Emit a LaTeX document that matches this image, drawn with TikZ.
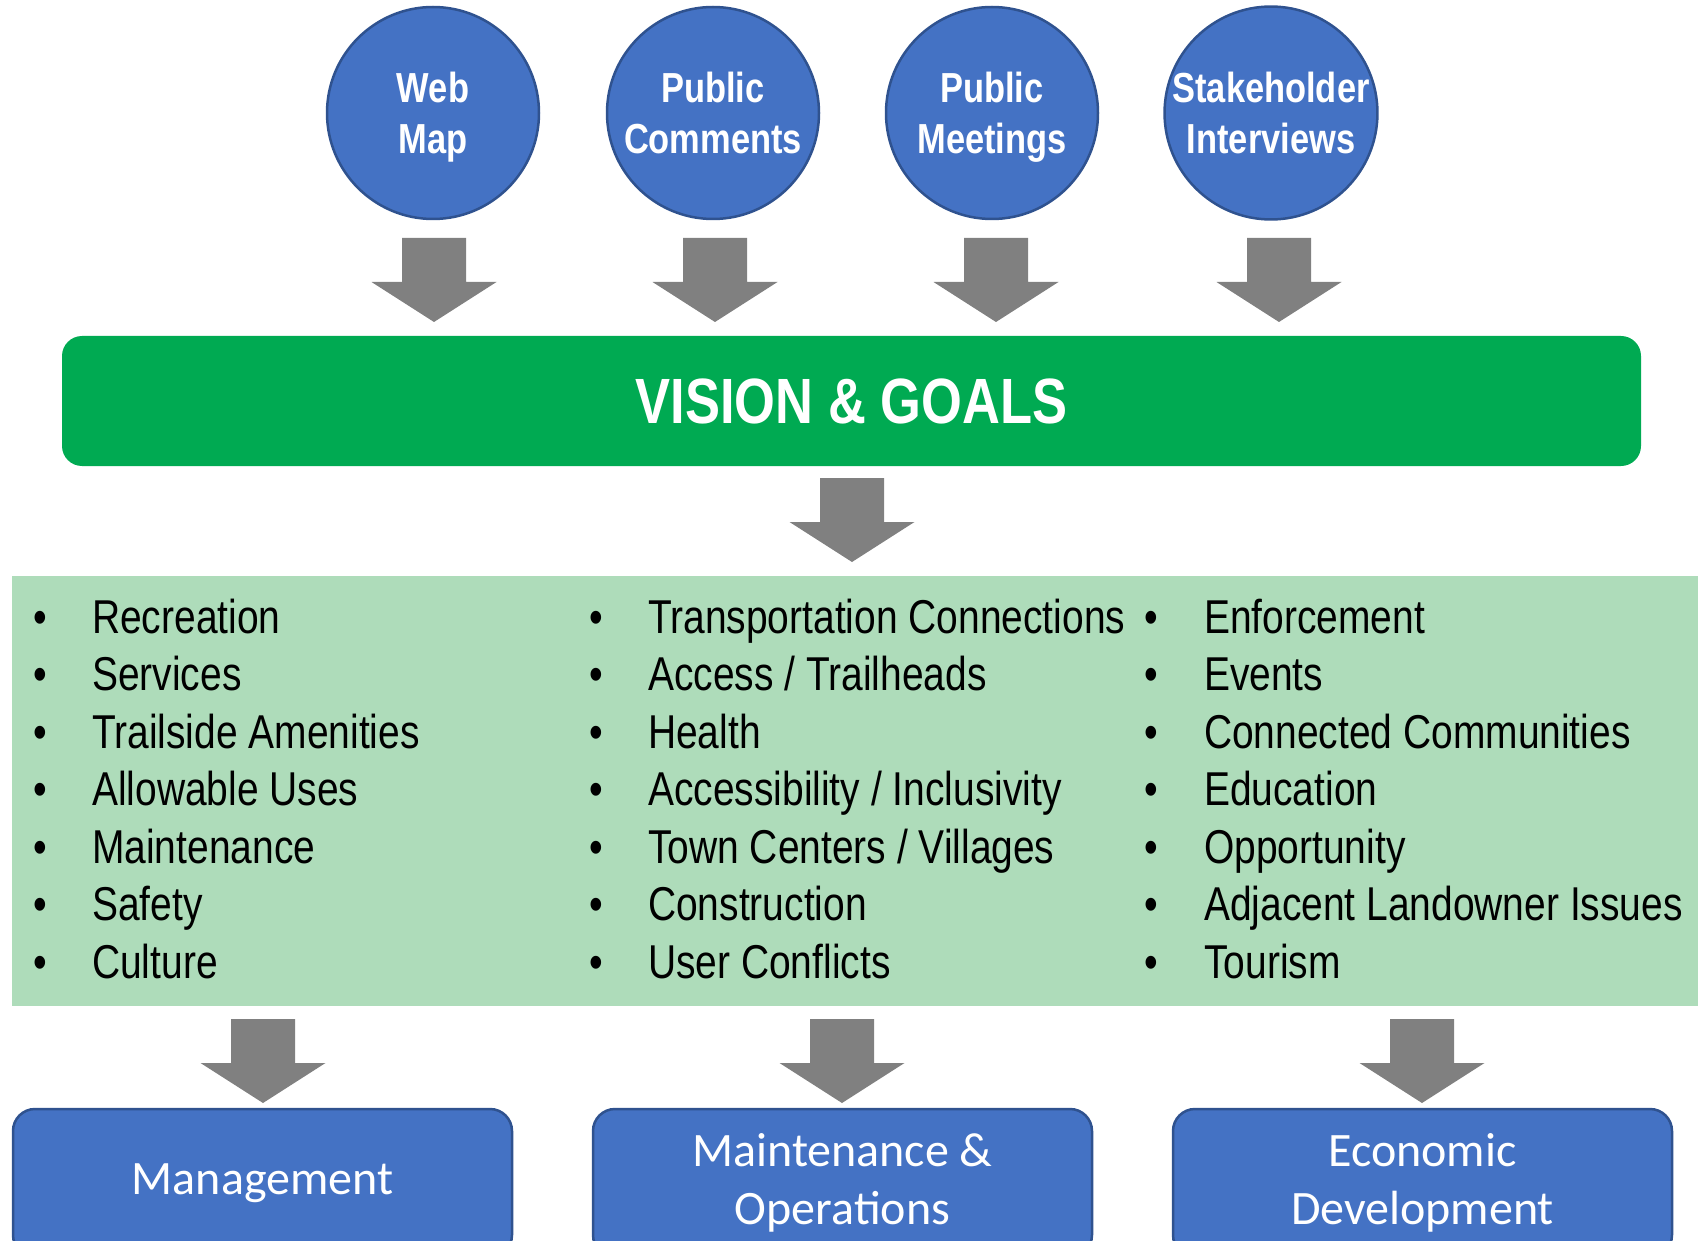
\documentclass[tikz,border=0pt]{standalone}
\usepackage{fontspec}
\setmainfont{Liberation Sans}
\newfontfamily\narrowfont[FakeStretch=0.82]{Liberation Sans}
\newfontfamily\calfont{Carlito}
\definecolor{cblue}{RGB}{68,114,196}
\definecolor{cbord}{RGB}{47,82,143}
\definecolor{cgreen}{RGB}{0,170,82}
\definecolor{lgreen}{RGB}{174,220,186}
\definecolor{agray}{RGB}{128,128,128}
\tikzset{
  src/.style={circle, fill=cblue, draw=cbord, line width=2.5pt, minimum size=212pt, inner sep=0pt,
    text=white, align=center, text depth=0pt, font=\narrowfont\bfseries\fontsize{42}{51}\selectfont},
  vgbox/.style={rectangle, rounded corners=20pt, fill=cgreen, minimum width=1579pt, minimum height=130pt,
    text=white, font=\narrowfont\bfseries\fontsize{64}{70}\selectfont},
  item/.style={anchor=base west, inner sep=0pt, font=\narrowfont\fontsize{47.5}{57}\selectfont},
  bul/.style={anchor=base, inner sep=0pt, font=\narrowfont\fontsize{47.5}{57}\selectfont},
  outbox/.style={rectangle, rounded corners=22pt, fill=cblue, draw=cbord, line width=2.5pt,
    minimum width=499pt, minimum height=148pt, text=white, align=center,
    font=\calfont\fontsize{48}{58}\selectfont},
  barrow/.pic={\fill[agray] (-32,0) -- (32,0) -- (32,44) -- (62.5,44) -- (0,84) -- (-62.5,44) -- (-32,44) -- cycle;}
}
\begin{document}
\begin{tikzpicture}[x=1pt,y=-1pt]
\useasboundingbox (0,0) rectangle (1698,1241);
\clip (0,0) rectangle (1698,1241);
% sources
\node[src] (c1) at (433,113) {Web\\Map};
\node[src] (c2) at (713,113) {Public\\Comments};
\node[src] (c3) at (992,113) {Public\\Meetings};
\node[src] (c4) at (1271,113) {Stakeholder\\Interviews};
% arrows to vision
\pic at (434,238) {barrow};
\pic at (715,238) {barrow};
\pic at (996,238) {barrow};
\pic at (1279,238) {barrow};
% vision
\node[vgbox] (vg) at (851.5,401) {VISION \& GOALS};
\pic at (852,478) {barrow};
% panel
\path[fill=lgreen] (12,576) rectangle (1698,1006);
% lists
\foreach \t [count=\i] in {Recreation,Services,Trailside Amenities,Allowable Uses,Maintenance,Safety,Culture}{
  \node[bul] (ba\i) at (40,{633+57.5*(\i-1)}) {•};
  \node[item] (la\i) at (92,{633+57.5*(\i-1)}) {\t};
}
\foreach \t [count=\i] in {Transportation Connections,Access / Trailheads,Health,Accessibility / Inclusivity,Town Centers / Villages,Construction,User Conflicts}{
  \node[bul] (bb\i) at (596,{633+57.5*(\i-1)}) {•};
  \node[item] (lb\i) at (648,{633+57.5*(\i-1)}) {\t};
}
\foreach \t [count=\i] in {Enforcement,Events,Connected Communities,Education,Opportunity,Adjacent Landowner Issues,Tourism}{
  \node[bul] (bc\i) at (1151,{633+57.5*(\i-1)}) {•};
  \node[item] (lc\i) at (1204,{633+57.5*(\i-1)}) {\t};
}
% arrows to outcomes
\pic at (263,1019) {barrow};
\pic at (842,1019) {barrow};
\pic at (1422,1019) {barrow};
% outcomes
\node[outbox] (o1) at (262.5,1183) {Management};
\node[outbox] (o2) at (842.5,1183) {Maintenance \&\\Operations};
\node[outbox] (o3) at (1422.5,1183) {Economic\\Development};
\end{tikzpicture}
\end{document}
